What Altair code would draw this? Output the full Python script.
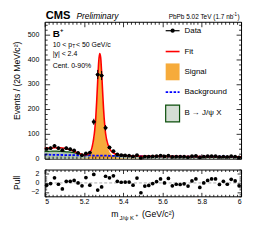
import altair as alt
import pandas as pd

# ---------------- data ----------------
bin_centers = [5.01, 5.03, 5.05, 5.07, 5.09, 5.11, 5.13, 5.15, 5.17, 5.19,
               5.21, 5.23, 5.25, 5.27, 5.29, 5.31, 5.33, 5.35, 5.37, 5.39,
               5.41, 5.43, 5.45, 5.47, 5.49, 5.51, 5.53, 5.55, 5.57, 5.59,
               5.61, 5.63, 5.65, 5.67, 5.69, 5.71, 5.73, 5.75, 5.77, 5.79,
               5.81, 5.83, 5.85, 5.87, 5.89, 5.91, 5.93, 5.95, 5.97, 5.99]
counts = [39, 42, 51, 42, 34, 42, 38, 33, 23, 14,
          21, 24, 148, 338, 334, 124, 45, 30, 17, 14,
          13, 12, 9, 14, 3, 8, 8, 9, 10, 12,
          9, 12, 7, 8, 8, 8, 6, 10, 11, 5,
          8, 10, 10, 10, 7, 8, 7, 10, 8, 5]
pulls = [-0.5, -0.15, 1.15, -0.3, -1.35, 0.35, 0.35, 0.55, 0.0, -0.65,
         1.2, -0.5, 1.9, -1.6, -0.9, 1.5, 1.15, 1.6, 0.35, 0.15,
         0.2, 0.2, -0.5, 1.1, -2.2, -0.7, -0.55, -0.15, 0.3, 0.9,
         0.0, 1.0, -0.65, -0.3, -0.35, -0.2, -0.7, 0.45, 0.9, -1.0,
         0.0, 0.55, 0.9, 0.9, -0.35, 0.35, -0.3, 0.8, 0.45, -0.65]

curve_x = [5.00, 5.02, 5.04, 5.06, 5.08, 5.10, 5.12, 5.14, 5.16, 5.18,
           5.20, 5.22, 5.23, 5.24, 5.25, 5.255, 5.26, 5.265, 5.27, 5.275,
           5.28, 5.285, 5.29, 5.295, 5.30, 5.305, 5.31, 5.32, 5.33, 5.34,
           5.35, 5.37, 5.40, 5.45, 5.50, 5.60, 5.70, 5.80, 5.90, 6.00]
fit_total = [42.0, 42.5, 43.0, 44.0, 43.5, 41.5, 38.0, 33.0, 26.0, 19.5,
             15.5, 17.0, 23.0, 41.0, 83.0, 116.0, 163.0, 233.0, 313.0, 388.0,
             422.0, 407.0, 347.0, 270.0, 197.0, 142.0, 102.0, 62.0, 40.0, 28.5,
             22.5, 16.0, 12.7, 10.7, 9.8, 9.2, 8.6, 8.1, 7.6, 7.2]
signal_pdf = [0, 0, 0, 0, 0, 0, 0, 0, 0, 0.5,
              1, 3, 10, 28, 70, 103, 150, 220, 300, 375,
              410, 395, 335, 258, 185, 130, 90, 50, 28, 17,
              11, 5, 2, 0.5, 0, 0, 0, 0, 0, 0]
background_pdf = [16.0, 15.7, 15.4, 15.1, 14.8, 14.5, 14.2, 14.0, 13.7, 13.4,
                  13.2, 12.9, 12.8, 12.6, 12.5, 12.4, 12.4, 12.3, 12.3, 12.2,
                  12.1, 12.1, 12.0, 12.0, 11.9, 11.9, 11.8, 11.7, 11.5, 11.4,
                  11.3, 11.0, 10.7, 10.2, 9.8, 9.2, 8.6, 8.1, 7.6, 7.2]
jpsix_top = [29.0, 29.5, 30.0, 30.0, 29.5, 28.5, 27.0, 25.0, 22.0, 18.5,
             15.5, 13.5, 13.0, 12.7, 12.5, 12.4, 12.4, 12.3, 12.3, 12.2,
             12.1, 12.1, 12.0, 12.0, 11.9, 11.9, 11.8, 11.7, 11.5, 11.4,
             11.3, 11.0, 10.7, 10.2, 9.8, 9.2, 8.6, 8.1, 7.6, 7.2]

x_major = [5.0, 5.2, 5.4, 5.6, 5.8, 6.0]
y_major = [0, 100, 200, 300, 400, 500]
pull_major = [-2, 0, 2]
x_ticks = [round(5.0 + 0.02 * i, 2) for i in range(51)]
y_ticks = list(range(0, 551, 20))
pull_ticks = [-3 + 0.5 * i for i in range(13)]

hist = pd.DataFrame({"m": bin_centers, "n": counts, "pull": pulls})
curves = pd.DataFrame({"m": curve_x, "fit": fit_total, "sig": signal_pdf,
                       "bkg": background_pdf, "jx": jpsix_top})
one = pd.DataFrame({"a": [0]})

W, H, HP = 198, 138, 27
FONT = "Liberation Sans"

xscale = alt.Scale(domain=[5.0, 6.0], nice=False, zero=False)
yscale = alt.Scale(domain=[0, 550], nice=False)
pscale = alt.Scale(domain=[-3, 3], nice=False)

XMAJ = "abs(datum.value*5 - round(datum.value*5)) < 0.001"
YMAJ = "abs(datum.value/100 - round(datum.value/100)) < 0.001"
PMAJ = "abs(datum.value/2 - round(datum.value/2)) < 0.001"


def tick_axis(orient, offset, values, test, major=5, minor=2.5):
    return alt.Axis(orient=orient, offset=offset, values=values, labels=False,
                    domain=False, grid=False, title=None, zindex=2,
                    tickColor="black", tickWidth=0.8,
                    tickSize={"condition": {"test": test, "value": major}, "value": minor})


def label_axis(orient, values, fmt, pad):
    return alt.Axis(orient=orient, values=values, format=fmt, ticks=False, tickSize=0,
                    domain=False, grid=False, title=None, labelFont=FONT,
                    labelFontSize=7, labelPadding=pad, labelColor="black")


def txt(s, x, y, size, **kw):
    opts = dict(font=FONT, fontSize=size, align="left", baseline="alphabetic", color="black")
    opts.update(kw)
    return alt.Chart(one).mark_text(**opts).encode(
        x=alt.value(x), y=alt.value(y), text=alt.value(s))


# ---------------- main panel ----------------
cb = alt.Chart(curves)
green = cb.mark_area(color="#AFC4AF", opacity=1, interpolate="monotone",
                     line={"color": "#0B4F0B", "strokeWidth": 1.2}).encode(
    x=alt.X("m:Q", scale=xscale, axis=tick_axis("top", -H, x_ticks, XMAJ)),
    y=alt.Y("jx:Q", scale=yscale, axis=label_axis("left", y_major, "d", 6)))
signal = cb.mark_area(color="#F6A630", opacity=0.95, interpolate="monotone").encode(
    x=alt.X("m:Q", scale=xscale, axis=tick_axis("bottom", -H, x_ticks, XMAJ)),
    y=alt.Y("sig:Q", scale=yscale, axis=tick_axis("right", -W, y_ticks, YMAJ)))
bkg = cb.mark_line(color="#0000FF", strokeDash=[2.5, 1.5], strokeWidth=1.8,
                   interpolate="monotone").encode(
    x=alt.X("m:Q", scale=xscale, axis=None),
    y=alt.Y("bkg:Q", scale=yscale, axis=tick_axis("left", -W, y_ticks, YMAJ)))
fit = cb.mark_line(color="#FF0000", strokeWidth=1.6, interpolate="monotone").encode(
    x=alt.X("m:Q", scale=xscale, axis=None),
    y=alt.Y("fit:Q", scale=yscale, axis=None))

hb = alt.Chart(hist).transform_calculate(
    lo="datum.n - sqrt(datum.n)", hi="datum.n + sqrt(datum.n)",
    xl="datum.m - 0.01", xh="datum.m + 0.01")
ebar = hb.mark_rule(color="black", strokeWidth=1).encode(
    x=alt.X("m:Q", scale=xscale, axis=None),
    y=alt.Y("lo:Q", scale=yscale, axis=None), y2="hi:Q")
xbar = hb.mark_rule(color="black", strokeWidth=1).encode(
    x=alt.X("xl:Q", scale=xscale, axis=None), x2="xh:Q",
    y=alt.Y("n:Q", scale=yscale, axis=None))
pts = hb.mark_circle(color="black", size=14, opacity=1).encode(
    x=alt.X("m:Q", scale=xscale, axis=None),
    y=alt.Y("n:Q", scale=yscale, axis=None))

# legend
lg_data_line = alt.Chart(one).mark_rule(color="black", strokeWidth=1.2).encode(
    x=alt.value(122), x2=alt.value(136), y=alt.value(9))
lg_data_dot = alt.Chart(one).mark_circle(color="black", size=18, opacity=1).encode(
    x=alt.value(129), y=alt.value(9))
lg_fit = alt.Chart(one).mark_rule(color="#FF0000", strokeWidth=1.6).encode(
    x=alt.value(122), x2=alt.value(136), y=alt.value(30))
lg_sig = alt.Chart(one).mark_rect(color="#F6A630", opacity=0.95).encode(
    x=alt.value(122), x2=alt.value(136), y=alt.value(42), y2=alt.value(59))
lg_bkg = alt.Chart(one).mark_rule(color="#0000FF", strokeWidth=1.8, strokeDash=[2.5, 1.5]).encode(
    x=alt.value(122), x2=alt.value(136), y=alt.value(71))
lg_jx = alt.Chart(one).mark_rect(fill="#D5DED5", stroke="#0B4F0B", strokeWidth=1.2).encode(
    x=alt.value(122), x2=alt.value(136), y=alt.value(84), y2=alt.value(101))
lg_texts = [txt("Data", 141, 9, 8, baseline="middle"),
            txt("Fit", 141, 30, 8, baseline="middle"),
            txt("Signal", 141, 51, 8, baseline="middle"),
            txt("Background", 141, 71, 8, baseline="middle"),
            txt("B \u2192 J/\u03c8 X", 141, 92, 8, baseline="middle")]

# labels
texts = [
    txt("CMS", 1, -3, 11.2, fontWeight="bold"),
    txt("Preliminary", 32, -3, 8.5, fontStyle="italic"),
    txt("PbPb 5.02 TeV (1.7 nb", 125, -3, 6.5),
    txt("-1", 190, -6, 4.5),
    txt(")", 194.5, -3, 6.5),
    txt("B", 8, 15, 10, fontWeight="bold"),
    txt("+", 15.5, 10, 6, fontWeight="bold"),
    txt("10 < p", 8, 25, 7),
    txt("T", 27.8, 26.5, 5),
    txt(" < 50 GeV/c", 31.5, 25, 7),
    txt("|y| < 2.4", 8, 34, 7),
    txt("Cent. 0-90%", 8, 46.5, 7),
    txt("Events / (20 MeV/c\u00b2)", -27.5, 20, 8.7, angle=270, align="right", baseline="middle"),
]

main = alt.layer(green, signal, bkg, fit, ebar, xbar, pts,
                 lg_data_line, lg_data_dot, lg_fit, lg_sig, lg_bkg, lg_jx,
                 *lg_texts, *texts).resolve_axis(x="independent", y="independent").properties(
    width=W, height=H)

# ---------------- pull panel ----------------
zero = alt.Chart(pd.DataFrame({"z": [0]})).mark_rule(
    color="#999999", strokeDash=[3, 2], strokeWidth=0.8).encode(
    y=alt.Y("z:Q", scale=pscale, axis=label_axis("left", pull_major, "d", 6)))
pb = alt.Chart(hist)
ppts = pb.mark_circle(color="black", size=14, opacity=1).encode(
    x=alt.X("m:Q", scale=xscale, axis=label_axis("bottom", x_major, "~g", 1.5)),
    y=alt.Y("pull:Q", scale=pscale, axis=tick_axis("right", -W, pull_ticks, PMAJ, 4, 2)))
pinv1 = pb.mark_point(opacity=0).encode(
    x=alt.X("m:Q", scale=xscale, axis=tick_axis("top", -HP, x_ticks, XMAJ, 4, 2)),
    y=alt.Y("pull:Q", scale=pscale, axis=tick_axis("left", -W, pull_ticks, PMAJ, 4, 2)))
pinv2 = pb.mark_point(opacity=0).encode(
    x=alt.X("m:Q", scale=xscale, axis=tick_axis("bottom", -HP, x_ticks, XMAJ, 4, 2)),
    y=alt.Y("pull:Q", scale=pscale, axis=None))
ptexts = [
    txt("Pull", -27.5, 13.5, 8.7, angle=270, align="center", baseline="middle"),
    txt("m", 67, 48, 8.7),
    txt("J/\u03c8 K", 75.5, 50.5, 6),
    txt("+", 91.5, 47.5, 4.5),
    txt("(GeV/c\u00b2)", 98, 48, 8.7),
]
pull = alt.layer(zero, ppts, pinv1, pinv2, *ptexts).resolve_axis(
    x="independent", y="independent").properties(width=W, height=HP)

chart = alt.vconcat(main, pull, spacing=6).properties(
    padding={"left": 5, "top": 0, "right": 0, "bottom": 0}
).configure_view(stroke="black", strokeWidth=1)

chart.save("out.html", embed_options={"renderer": "svg", "actions": False})
